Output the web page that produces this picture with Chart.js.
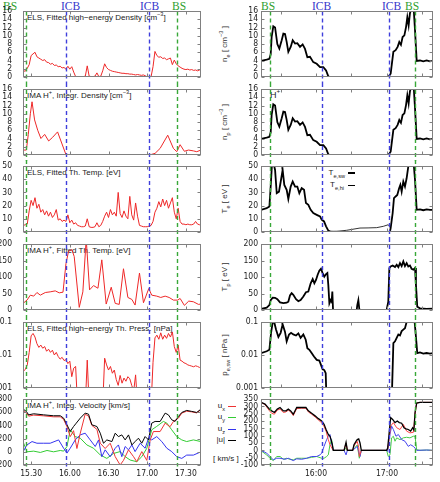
<!DOCTYPE html>
<html>
<head>
<meta charset="utf-8">
<title>ELS / IMA boundary crossing</title>
<script src="https://cdn.jsdelivr.net/npm/chart.js@4"></script>
<style>
  body { margin: 0; background: #fff; width: 440px; height: 482px; position: relative; overflow: hidden;
         font-family: "Liberation Sans", Arial, sans-serif; }
  .panel { position: absolute; }
  .ev { position: absolute; top: 1px; font-family: "Liberation Serif", "Times New Roman", serif; font-size: 11.5px; line-height: 1; }
  .bs { color: #2f9f2f; }
  .icb { color: #3535cc; }
  .ttl { position: absolute; left: 27px; font-size: 8px; line-height: 1; color: #222; white-space: nowrap; }
  .lbl { position: absolute; font-size: 8px; line-height: 1; color: #222; white-space: nowrap; }
  .ytl { position: absolute; left: 225px; font-size: 8px; line-height: 1; color: #333; white-space: nowrap;
         transform: translate(-50%, -50%) rotate(-90deg); }
  .key { position: absolute; }
  sub, sup { font-size: 70%; line-height: 0; }
</style>
</head>
<body>

<div class="ev bs" style="left:3px">BS</div>
<div class="ev icb" style="left:61px">ICB</div>
<div class="ev icb" style="left:140px">ICB</div>
<div class="ev bs" style="left:172px">BS</div>
<div class="ev bs" style="left:261px">BS</div>
<div class="ev icb" style="left:312px">ICB</div>
<div class="ev icb" style="left:382px">ICB</div>
<div class="ev bs" style="left:405px">BS</div>

<div class="ttl" style="top:14px">ELS, Fitted high−energy Density [cm<sup>−3</sup>]</div>
<div class="ttl" style="top:92px">IMA H<sup>+</sup>, Integr. Density [cm<sup>−3</sup>]</div>
<div class="ttl" style="top:169px">ELS, Fitted Th. Temp. [eV]</div>
<div class="ttl" style="top:247px">IMA H<sup>+</sup>, Fitted Th. Temp. [eV]</div>
<div class="ttl" style="top:325px">ELS, Fitted high−energy Th. Press. [nPa]</div>
<div class="ttl" style="top:402px">IMA H<sup>+</sup>, Integ. Velocity [km/s]</div>

<div class="ytl" style="top:44px">n<sub>e</sub> [ cm<sup>−3</sup> ]</div>
<div class="ytl" style="top:122px">n<sub>p</sub> [ cm<sup>−3</sup> ]</div>
<div class="ytl" style="top:199px">T<sub>e</sub> [ eV ]</div>
<div class="ytl" style="top:277px">T<sub>p</sub> [ eV ]</div>
<div class="ytl" style="top:355px">p<sub>e,sw</sub> [ nPa ]</div>

<div class="lbl" style="left:270px; top:91px; font-size:9px">H<sup>+</sup></div>

<div class="lbl" style="right:95px; top:169px">T<sub>e,sw</sub></div>
<div class="key" style="left:348px; top:172px; width:7px; height:2px; background:#000"></div>
<div class="lbl" style="right:96px; top:181px">T<sub>e,hi</sub></div>
<div class="key" style="left:348px; top:185px; width:7px; height:1px; background:#000"></div>

<div class="lbl" style="right:215px; top:402px">u<sub>x</sub></div>
<div class="key" style="left:228px; top:406px; width:8px; height:1px; background:#ee3333"></div>
<div class="lbl" style="right:215px; top:413px">u<sub>y</sub></div>
<div class="key" style="left:228px; top:417px; width:8px; height:1px; background:#33cc33"></div>
<div class="lbl" style="right:215px; top:425px">u<sub>z</sub></div>
<div class="key" style="left:228px; top:429px; width:8px; height:1px; background:#3333ee"></div>
<div class="lbl" style="right:215px; top:436px">|u|</div>
<div class="key" style="left:228px; top:440px; width:8px; height:1px; background:#000"></div>
<div class="lbl" style="left:213px; top:455px">[ km/s ]</div>

<script>
// time axis: minutes after 15:00 UT
const leftTickVals = [30, 60, 90, 120, 150];
const leftTickText = ['15.30', '16.00', '16.30', '17.00', '17.30'];
const rightTickVals = [30, 60, 90, 120, 150];
const rightTickText = ['', '16:00', '', '17:00', ''];

const eventKinds = ['BS', 'ICB', 'ICB', 'BS'];
const leftEventTimes = [25.7, 57.0, 121.5, 143.4];
const rightEventTimes = [21.1, 64.9, 121.7, 143.7];

// ---- left column (ELS / IMA), ELS sampled every 1.5 min from 24 min ----
const elsStart = 24, elsStep = 1.5;
const elsDensity = [
  1.5, 1.4, 2.1, 3.0, 5.2, 5.6, 6.0, 4.9, 4.6, 4.3,
  4.0, 4.2, 3.6, 3.5, 3.1, 3.3, 2.8, 2.9, 2.5, 2.6,
  2.2, 2.3, 1.9, 2.6, 1.9, 2.5, 1.2, 0.1, 0.1, 0.05,
  0.1, 0.1, 0.2, 2.7, 0.2, 0.1, 0.1, 0.2, 1.0, 0.1,
  0.2, 1.5, 3.2, 2.3, 1.8, 1.6, 1.4, 1.3, 1.2, 1.1,
  1.0, 0.9, 0.9, 0.8, 0.8, 0.7, 0.7, 0.6, 0.5, 0.6,
  0.5, 0.4, 0.5, 0.3, 0.05, 0, 0.1, 2.5, 6.2, 5.2,
  4.8, 4.9, 4.5, 4.6, 4.2, 4.4, 4.6, 3.0, 4.1, 3.2,
  2.7, 2.4, 2.1, 1.9, 1.8, 1.9, 1.7, 1.8, 1.6, 1.7,
  1.5, 1.7, 1.5];
const elsTemp = [
  5, 5.5, 6, 16, 24, 20, 26, 18, 21, 15,
  17, 13, 16, 12, 15, 11, 13, 17, 9, 10,
  8, 9, 8, 13, 7, 9, 6, 7, 5, 4.5,
  4, 4, 4.5, 10, 4, 3.5, 3.5, 4, 7, 4,
  5, 8, 12, 15, 11, 17, 13, 15, 12, 30,
  14, 11, 16, 12, 10, 27, 13, 9, 22, 12,
  5, 4.5, 4, 4, 4, 4.5, 5, 8, 15, 18,
  23, 19, 25, 20, 24, 18, 22, 26, 15, 10,
  18, 8, 6, 6, 5.5, 6, 5.5, 5.5, 6, 8,
  6, 5.5, 5.5];
const elsPress = [
  0.0032, 0.0037, 0.005, 0.012, 0.038, 0.045, 0.035, 0.022, 0.017, 0.02,
  0.016, 0.018, 0.013, 0.015, 0.012, 0.014, 0.01, 0.012, 0.009, 0.0075,
  0.0085, 0.0068, 0.0072, 0.0055, 0.0065, 0.0022, 0.004, 0.0045, 0.0003, 0.0003,
  0.0003, 0.0003, 0.0003, 0.007, 0.0003, 0.0003, 0.0003, 0.0003, 0.0003, 0.0003,
  0.0003, 0.0003, 0.008, 0.005, 0.0035, 0.0045, 0.0028, 0.0035, 0.0018, 0.0012,
  0.0024, 0.0014, 0.002, 0.0016, 0.0022, 0.0019, 0.0012, 0.0008, 0.0025, 0.0003,
  0.0003, 0.0003, 0.0003, 0.0003, 0.0003, 0.0003, 0.0003, 0.006, 0.033, 0.04,
  0.03, 0.047, 0.03, 0.04, 0.032, 0.045, 0.035, 0.05, 0.018, 0.012,
  0.02, 0.007, 0.0065, 0.0058, 0.0055, 0.005, 0.0048, 0.0046, 0.0044, 0.0047,
  0.0045, 0.0042, 0.0045];

const imaDensT = [23.7, 26.3, 27.8, 29.4, 30.7, 32.7, 35.1, 37.6, 40.5, 43.6, 46.7, 50.5, 57.0, 62.9, 73.2, 83.6, 93.9, 104.2, 114.5, 122.3, 126.1, 130.0, 135.9, 140.3, 142.9, 145.5, 148.8, 152.0, 155.8, 158.4, 161.7];
const imaDensV = [1.2, 1.2, 5.0, 10, 12.9, 8.5, 6.0, 4.0, 5.0, 3.4, 4.3, 5.6, 0.1, 0.05, 0.1, 0.05, 0.1, 0.05, 0.1, 0.05, 0.4, 1.6, 4.8, 1.6, 0.8, 2.5, 0.9, 1.2, 1.0, 0.8, 1.2];

const imaTempT = [23.7, 26.8, 29.4, 32.0, 34.5, 37.1, 41.0, 44.8, 48.7, 51.8, 54.7, 57.0, 59.0, 61.6, 63.4, 67.3, 70.1, 72.7, 75.3, 78.4, 81.8, 84.8, 88.2, 92.1, 95.2, 98.3, 101.6, 105.0, 108.1, 110.6, 114.0, 117.1, 121.2, 123.5, 127.4, 130.5, 133.9, 137.0, 140.3, 143.7, 145.5, 148.8, 152.2, 155.8, 159.7, 161.7];
const imaTempV = [20, 30, 45, 42, 53, 45, 53, 55, 58, 52, 54, 140, 178, 183, 162, 8, 55, 215, 61, 74, 66, 152, 18, 69, 20, 17, 125, 38, 32, 15, 112, 22, 65, 45, 42, 38, 42, 38, 30, 30, 35, 14, 27, 25, 17, 18];

const imaAbsT = [23.7, 26.3, 28.1, 32.0, 39.7, 47.4, 52.6, 55.2, 57.8, 60.3, 62.9, 65.0, 68.1, 71.9, 74.5, 77.1, 81.0, 83.6, 86.1, 88.7, 92.6, 95.2, 97.7, 100.3, 102.9, 105.5, 108.1, 110.6, 113.2, 115.8, 118.4, 121.0, 123.5, 126.1, 130.0, 133.9, 136.4, 139.0, 141.6, 144.2, 146.8, 150.6, 154.5, 158.4, 161.7];
const imaAbsV = [648, 612, 560, 576, 560, 546, 546, 510, 409, 307, 383, 434, 510, 586, 570, 409, 383, 282, 130, 180, 155, 282, 230, 256, 180, 256, 104, 155, 206, 130, 231, 180, 434, 460, 459, 586, 560, 485, 460, 535, 596, 627, 612, 596, 648];
const imaUxT = [23.7, 26.3, 28.1, 32.0, 39.7, 47.4, 52.6, 55.2, 57.8, 60.3, 62.9, 65.5, 68.1, 71.9, 74.5, 77.1, 81.0, 83.6, 87.4, 91.3, 95.2, 99.0, 101.6, 105.5, 109.4, 111.9, 115.8, 119.7, 122.3, 124.8, 130.0, 133.9, 137.7, 140.3, 144.2, 146.8, 150.6, 154.5, 158.4, 161.7];
const imaUxV = [620, 590, 540, 556, 545, 530, 530, 490, 380, 230, 320, 50, 282, 570, 540, 400, 340, 130, 50, 130, -74, -200, -130, 30, -74, -150, 3, -130, 180, 307, 307, 434, 380, 459, 510, 586, 615, 605, 590, 640];
const imaUyT = [23.7, 26.8, 32.0, 37.1, 42.3, 47.4, 52.6, 55.2, 57.8, 60.3, 64.2, 68.1, 73.2, 78.4, 83.6, 88.7, 93.9, 99.0, 102.9, 106.8, 111.9, 115.8, 119.7, 123.5, 127.4, 132.5, 135.2, 139.0, 142.9, 146.8, 150.6, 155.8, 161.7];
const imaUyV = [155, 0, 10, -10, 20, 0, 20, 10, 80, 333, 230, 206, 104, 54, -48, -100, -25, 3, -74, -125, -150, -74, 54, 333, 385, 460, 435, 333, 231, 180, 155, 180, 155];
const imaUzT = [23.7, 26.8, 30.7, 34.5, 39.7, 44.8, 51.3, 55.2, 57.8, 60.3, 64.2, 68.1, 71.9, 75.8, 79.7, 82.3, 84.8, 87.4, 91.3, 95.2, 97.7, 100.3, 102.9, 105.5, 108.1, 110.6, 114.5, 118.4, 121.0, 123.5, 127.4, 131.3, 135.2, 139.0, 142.9, 146.8, 150.6, 155.8, 161.7];
const imaUzV = [0, 104, 155, 130, 130, 130, 180, 54, -20, 54, 180, 257, 282, 180, 80, 180, -74, 30, -74, 54, 104, -74, 80, 30, 104, 3, 130, 54, 206, 180, 231, 155, 54, 3, -74, -100, -50, -50, 0];

// ---- right column (derived solar-wind parameters) ----
const neT = [13.5, 18.3, 20.6, 21.7, 22.5, 23.9, 25.4, 27.3, 29.0, 31.0, 32.4, 33.8, 35.2, 36.6, 38.6, 40.3, 42.3, 44.2, 46.5, 48.7, 50.7, 52.7, 54.9, 57.7, 60.6, 63.4, 66.2, 68.5, 70.4, 71.8, 80, 90, 100, 110, 121.1, 123.1, 125.4, 127.3, 129.0, 130.4, 131.8, 133.2, 134.7, 136.1, 137.2, 138.3, 139.4, 140.8, 142.3, 143.7, 145.1, 147.9, 150.7, 153.5, 156.3, 159.1];
const neV = [3.9, 4.2, 4.4, 5.5, 9.7, 12.3, 12.0, 8.0, 6.9, 8.9, 10.5, 10.4, 8.5, 6.1, 7.3, 8.9, 8.1, 8.2, 7.3, 7.9, 6.8, 4.8, 4.9, 3.6, 3.2, 2.4, 2.4, 1.6, 0.15, 0, 0.02, 0, 0.02, 0, 0, 0.8, 6.1, 6.5, 7.3, 8.5, 7.8, 9.7, 10.1, 12.1, 14.5, 12.5, 15.4, 17, 18, 11.3, 3.9, 4.0, 3.8, 4.0, 3.8, 3.9];
const npV = [3.9, 4.2, 4.4, 5.5, 9.7, 12.3, 12.0, 8.0, 6.9, 8.9, 10.5, 10.4, 8.5, 6.1, 7.3, 8.9, 8.1, 8.2, 7.3, 7.9, 6.8, 4.8, 4.9, 3.6, 3.2, 2.4, 2.4, 1.6, 0.15, 0, 0.02, 0, 0.02, 0, 0, 0.8, 6.1, 6.5, 7.3, 8.5, 7.8, 9.7, 10.1, 12.1, 14.5, 12.5, 15.4, 17, 18, 11.3, 3.9, 4.0, 3.8, 4.0, 3.8, 3.9];

const teSwT = [13.5, 18.3, 20.6, 22.0, 22.8, 23.9, 25.4, 26.8, 28.7, 30.4, 31.8, 33.2, 35.2, 36.6, 38.6, 40.3, 42.3, 44.2, 45.9, 47.9, 49.9, 51.5, 53.5, 55.5, 57.7, 60.6, 63.4, 64.8, 66.8, 68.5, 70.4, 72.4, 80, 100, 122.5, 123.1, 124.8, 125.9, 127.3, 128.7, 130.2, 131.3, 132.4, 133.8, 135.2, 136.6, 138.0, 139.4, 142.3, 143.7, 145.1, 147.9, 150.7, 153.5, 156.3, 159.1];
const teSwV = [16.8, 18, 19.3, 39, 52, 53, 47, 29.4, 30.6, 39.4, 47, 35.7, 32, 25, 34.4, 38.2, 34.4, 34.4, 29.4, 33.2, 32, 21.9, 20.6, 16.8, 14.3, 13, 11.8, 9.3, 8, 4.3, 1, 0.2, 0.1, 0.1, 0.2, 3, 14.3, 25.6, 26.9, 28, 33, 35.7, 30.6, 38.2, 34.4, 40.7, 49.5, 55, 55, 39.4, 16.8, 17.2, 16.5, 17.2, 16.8, 16.8];
const teHiT = [70.4, 77.5, 85.9, 97.2, 104, 111.3, 116.9, 121.1, 123.1];
const teHiV = [0.2, 0.5, 1.3, 3.0, 3.1, 3.3, 4.3, 5.5, 3.0];

const tpT = [13.5, 18.3, 20.6, 21.7, 23.4, 25.4, 27.3, 29.6, 32.4, 35.2, 36.6, 38.0, 39.4, 40.8, 43.1, 45.1, 47.0, 49.3, 51.5, 53.5, 55.5, 57.2, 58.6, 60.0, 61.4, 62.8, 64.2, 65.6, 67.0, 68.5, 69.6, 70.4, 71.3, 72.4, 73.2, 73.8, 74.4, 94.4, 94.9, 95.8, 96.6, 97.2, 119.7, 121.1, 122.0, 123.1, 124.8, 126.8, 128.2, 129.6, 131.0, 132.4, 133.8, 135.2, 136.6, 138.0, 139.4, 140.8, 142.3, 143.7, 144.5, 145.6, 147.9, 153.5, 159.1];
const tpV = [3, 7, 15, 30, 37.5, 37, 33, 23, 21, 22, 25, 44, 51, 46, 33, 27, 30, 41, 54, 56, 81, 94, 81, 91, 107, 119, 125, 112, 101, 109, 112, 76, 20, 30, 25, 56, 0, 0, 15, 30, 3, 0, 0, 25, 127, 132, 135, 130, 137, 130, 142, 133, 147, 133, 142, 132, 135, 125, 122, 127, 76, 10, 5, 3, 4];

const peT = [13.5, 18.3, 20.6, 22.0, 23.4, 24.8, 26.2, 28.2, 30.1, 31.8, 33.8, 35.2, 37.2, 38.9, 40.8, 43.1, 45.1, 47.0, 49.3, 51.3, 52.7, 54.4, 56.3, 58.3, 60.6, 62.8, 64.2, 65.6, 67.0, 68.2, 69.0, 95, 123.9, 125.4, 126.8, 128.2, 129.6, 131.0, 132.4, 133.8, 135.2, 136.6, 138.0, 143.1, 144.2, 145.6, 147.9, 150.7, 153.5, 156.3, 159.1];
const peV = [0.0114, 0.013, 0.0144, 0.047, 0.1, 0.095, 0.059, 0.035, 0.047, 0.085, 0.05, 0.026, 0.042, 0.047, 0.042, 0.039, 0.045, 0.033, 0.042, 0.029, 0.016, 0.0144, 0.0114, 0.009, 0.0071, 0.0068, 0.005, 0.0037, 0.0035, 0.0028, 0.0003, null, 0.0003, 0.023, 0.026, 0.033, 0.042, 0.039, 0.053, 0.059, 0.065, 0.1, 0.13, 0.13, 0.047, 0.0114, 0.012, 0.011, 0.0115, 0.011, 0.0114];

const swAbsT = [13.5, 16.9, 20.6, 22.5, 24.8, 27.3, 29.6, 32.4, 34.6, 36.6, 38.6, 40.8, 43.7, 47.9, 51.5, 53.5, 56.3, 59.2, 62.0, 64.8, 66.8, 68.5, 70.4, 71.8, 72.7, 73.8, 74.6, 83.7, 85.4, 86.5, 91.0, 92.1, 93.8, 94.9, 96.1, 97.2, 98.3, 119.7, 120.6, 121.7, 123.1, 124.8, 126.8, 128.7, 130.4, 132.4, 134.4, 136.1, 138.0, 140.0, 141.7, 142.8, 143.7, 145.1, 147.9, 153.5, 159.1];
const swAbsV = [327, 315, 281, 269, 258, 281, 292, 269, 269, 281, 269, 246, 292, 292, 292, 269, 253, 235, 216, 200, 177, 142, 108, 96, 73, 39, 0, 0, 55, 0, 0, 38, 61, 73, 78, 50, 0, 0, 15, 108, 223, 211, 189, 200, 189, 185, 154, 147, 142, 131, 154, 138, 258, 322, 327, 327, 327];
const swUxT = [13.5, 16.9, 20.6, 22.5, 24.8, 27.3, 29.6, 32.4, 34.6, 36.6, 38.6, 40.8, 43.7, 47.9, 51.5, 53.5, 56.3, 59.2, 62.0, 64.8, 66.8, 68.5, 70.4, 71.8, 73.8, 74.6, 83.7, 85.4, 86.5, 91.0, 92.1, 93.8, 94.9, 96.1, 96.6, 98.3, 119.7, 120.6, 121.7, 123.1, 125.4, 128.2, 131.0, 133.8, 136.6, 139.4, 142.3, 143.7, 145.1, 147.9, 153.5, 159.1];
const swUxV = [327, 312, 270, 253, 246, 275, 281, 258, 262, 274, 262, 237, 285, 287, 287, 262, 246, 228, 207, 188, 162, 131, 73, 39, 10, 0, 0, 50, 0, 0, 30, 50, 60, 20, -42, 0, 0, 10, 73, 165, 189, 154, 142, 177, 131, 119, 123, 246, 322, 327, 327, 327];
const swUyT = [13.5, 18.3, 21.1, 23.9, 26.8, 29.6, 32.4, 35.2, 38.0, 40.8, 43.7, 47.9, 52.1, 56.3, 60.6, 64.8, 66.8, 69.0, 70.4, 71.8, 73.2, 74.6, 83.7, 85.4, 86.5, 91.0, 94.9, 96.6, 98.3, 119.7, 121.1, 122.5, 123.9, 125.4, 126.8, 128.2, 131.0, 133.8, 136.6, 139.4, 142.3, 143.7, 145.1, 147.9, 153.5, 159.1];
const swUyV = [-3, -31, -54, -70, -42, -42, -61, -54, -61, -65, -54, -54, -54, -48, -42, -54, -54, -42, -31, 38, 73, 0, 0, 15, 0, 0, 37, -54, 0, 0, -42, -31, 85, 96, 62, 85, 73, 85, 89, 85, 96, 96, 4, 0, 2, 0];
const swUzT = [13.5, 18.3, 21.1, 23.9, 26.8, 29.6, 33.8, 36.6, 40.8, 43.7, 47.9, 52.1, 56.3, 60.6, 63.4, 64.8, 66.8, 69.0, 70.4, 71.8, 73.2, 74.6, 83.7, 85.4, 86.5, 91.0, 94.9, 97.2, 98.3, 119.7, 120.6, 121.7, 123.9, 125.4, 127.6, 129.6, 132.4, 135.2, 138.0, 140.0, 142.3, 143.7, 145.1, 153.5, 159.1];
const swUzV = [0, -19, -42, -65, -54, -54, -61, -54, -70, -58, -61, -54, -42, -42, -31, -19, 27, 73, 96, 108, 50, 0, 0, -31, 0, 0, 27, -42, 0, 0, -8, 73, 165, 142, 96, 108, 73, 62, 27, 38, 27, 15, 0, 2, 0];

// ---- layout ----
const ROW_TOP = [11, 89, 166, 244, 322, 399];
const PLOT_H = 66;
const PAD = 18;   // room above/below each plot box (y tick labels overhang it)
const TICK_FONT = { family: "'Liberation Sans Narrow', 'DejaVu Sans Condensed', 'Liberation Sans', sans-serif", size: 8.5 };
const COLORS = { BS: '#38a838', ICB: '#3f3fdc' };

const LEFT = { left: 0, width: 210, axisW: 23, padR: 9, yPad: 11, xmin: 23.7, xmax: 161.7,
  tickVals: leftTickVals, tickText: leftTickText, events: leftEventTimes };
const RIGHT = { left: 236, width: 204, axisW: 25, padR: 7, yPad: 3, xmin: 13.5, xmax: 158.9,
  tickVals: rightTickVals, tickText: rightTickText, events: rightEventTimes };

function series(ts, vs, color, width) {
  return {
    data: ts.map((t, i) => ({ x: t, y: vs[i] })),
    borderColor: color, borderWidth: width, pointRadius: 0, fill: false, tension: 0, spanGaps: false
  };
}
function gridSeries(vs, color) {
  return series(vs.map((v, i) => elsStart + elsStep * i), vs, color, 1);
}

function framePlugin(col, row) {
  return {
    id: 'frame',
    afterDatasetsDraw(chart) {
      const { ctx, chartArea: a, scales: { x, y } } = chart;
      const L = Math.round(a.left) + 0.5, R = Math.round(a.right) - 0.5;
      const T = Math.round(a.top) + 0.5, B = Math.round(a.bottom) - 0.5;
      ctx.save();
      // boundary crossings, continued through the gaps between panels
      ctx.lineWidth = 1.4;
      ctx.setLineDash([4, 3]);
      col.events.forEach((t, i) => {
        const px = Math.round(x.getPixelForValue(t)) + 0.5;
        ctx.strokeStyle = COLORS[eventKinds[i]];
        ctx.beginPath();
        ctx.moveTo(px, row === 0 ? T : T - 6.5);
        ctx.lineTo(px, row === 5 ? B + 2 : B + 6.5);
        ctx.stroke();
      });
      ctx.setLineDash([]);
      // box with inward ticks
      ctx.lineWidth = 1;
      ctx.strokeStyle = '#808080';
      ctx.strokeRect(L, T, R - L, B - T);
      ctx.beginPath();
      y.ticks.forEach(tk => {
        const py = Math.round(y.getPixelForValue(tk.value)) + 0.5;
        ctx.moveTo(L, py); ctx.lineTo(L + 3, py);
        ctx.moveTo(R, py); ctx.lineTo(R - 3, py);
      });
      x.ticks.forEach(tk => {
        const px = Math.round(x.getPixelForValue(tk.value)) + 0.5;
        ctx.moveTo(px, T); ctx.lineTo(px, T + 3);
        ctx.moveTo(px, B); ctx.lineTo(px, B - 3);
      });
      ctx.stroke();
      ctx.restore();
    }
  };
}

function makePanel(col, row, yOpt, datasets) {
  const last = row === 5;
  const bottom = last ? 20 : PAD;
  const h = PAD + PLOT_H + bottom;
  const div = document.createElement('div');
  div.className = 'panel';
  div.style.left = col.left + 'px';
  div.style.top = (ROW_TOP[row] - PAD) + 'px';
  div.style.width = col.width + 'px';
  div.style.height = h + 'px';
  const cv = document.createElement('canvas');
  cv.width = col.width;
  cv.height = h;
  div.appendChild(cv);
  document.body.appendChild(div);

  const yScale = {
    type: yOpt.log ? 'logarithmic' : 'linear',
    min: yOpt.min, max: yOpt.max,
    grid: { display: false, drawTicks: false },
    border: { display: false },
    afterFit: s => { s.width = col.axisW; },
    ticks: { autoSkip: false, padding: col.yPad, font: TICK_FONT, color: '#222' }
  };
  if (yOpt.log) {
    yScale.afterBuildTicks = s => { s.ticks = [0.001, 0.01, 0.1].map(v => ({ value: v })); };
    yScale.ticks.callback = v => String(v);
  } else {
    yScale.ticks.stepSize = yOpt.step;
  }

  return new Chart(cv, {
    type: 'line',
    data: { datasets },
    options: {
      responsive: false, animation: false, devicePixelRatio: 1,
      layout: { padding: { top: PAD, right: col.padR, left: 0, bottom: 0 } },
      plugins: { legend: { display: false }, tooltip: { enabled: false } },
      scales: {
        x: {
          type: 'linear', min: col.xmin, max: col.xmax,
          grid: { display: false, drawTicks: false },
          border: { display: false },
          afterBuildTicks: s => { s.ticks = col.tickVals.map(v => ({ value: v })); },
          afterFit: s => { s.height = bottom; },
          ticks: {
            display: last, autoSkip: false, maxRotation: 0, padding: 4, font: TICK_FONT, color: '#222',
            callback: v => col.tickText[col.tickVals.indexOf(v)]
          }
        },
        y: yScale
      }
    },
    plugins: [framePlugin(col, row)]
  });
}

const RED = 'rgb(238,40,40)';

makePanel(LEFT, 0, { min: 0, max: 16, step: 2 }, [gridSeries(elsDensity, RED)]);
makePanel(LEFT, 1, { min: 0, max: 16, step: 2 }, [series(imaDensT, imaDensV, RED, 1)]);
makePanel(LEFT, 2, { min: 0, max: 50, step: 10 }, [gridSeries(elsTemp, RED)]);
makePanel(LEFT, 3, { min: 0, max: 200, step: 50 }, [series(imaTempT, imaTempV, RED, 1)]);
makePanel(LEFT, 4, { log: true, min: 0.001, max: 0.1 }, [gridSeries(elsPress, RED)]);
makePanel(LEFT, 5, { min: -200, max: 800, step: 200 }, [
  series(imaAbsT, imaAbsV, '#000', 1),
  series(imaUxT, imaUxV, '#ee3333', 1),
  series(imaUzT, imaUzV, '#3333ee', 1),
  series(imaUyT, imaUyV, '#33cc33', 1)
]);

makePanel(RIGHT, 0, { min: 0, max: 16, step: 2 }, [series(neT, neV, '#000', 1.8)]);
makePanel(RIGHT, 1, { min: 0, max: 16, step: 2 }, [series(neT, npV, '#000', 1.8)]);
makePanel(RIGHT, 2, { min: 0, max: 50, step: 10 }, [
  series(teSwT, teSwV, '#000', 1.8),
  series(teHiT, teHiV, '#000', 0.8)
]);
makePanel(RIGHT, 3, { min: 0, max: 200, step: 50 }, [series(tpT, tpV, '#000', 1.8)]);
makePanel(RIGHT, 4, { log: true, min: 0.001, max: 0.1 }, [series(peT, peV, '#000', 1.8)]);
makePanel(RIGHT, 5, { min: -100, max: 350, step: 50 }, [
  series(swAbsT, swAbsV, '#000', 1.3),
  series(swUxT, swUxV, '#ff4444', 1),
  series(swUzT, swUzV, '#4444ee', 1),
  series(swUyT, swUyV, '#44cc44', 1)
]);
</script>
</body>
</html>
